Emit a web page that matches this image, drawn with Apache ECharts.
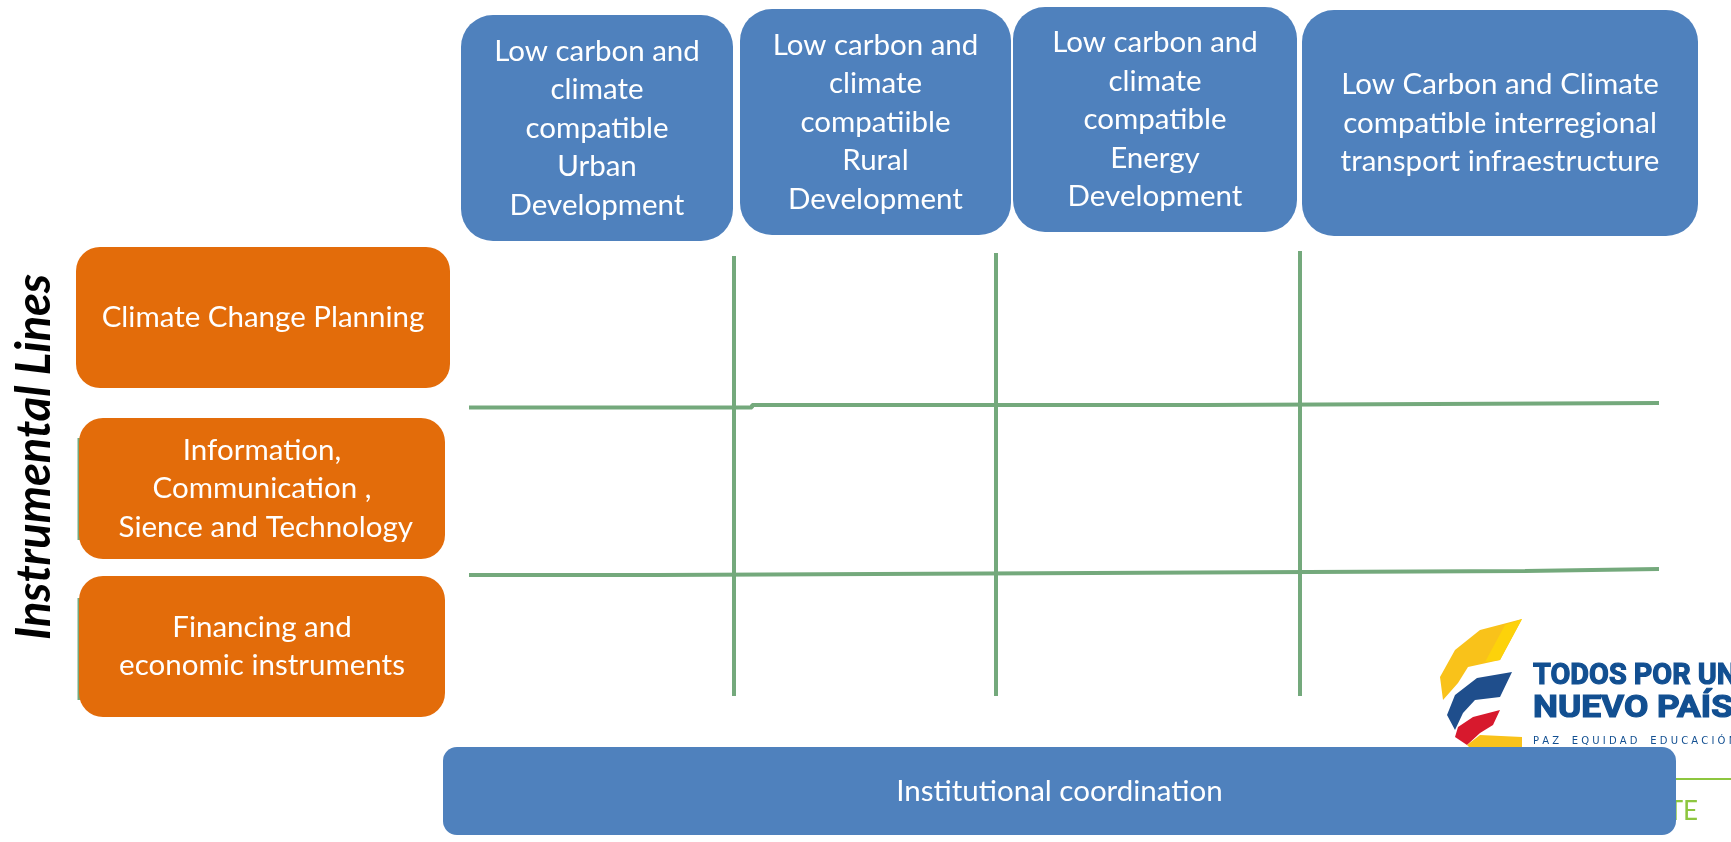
<!DOCTYPE html>
<html>
<head>
<meta charset="utf-8">
<script src="https://cdn.jsdelivr.net/npm/echarts@6/dist/echarts.min.js"></script>
<style>
  html, body { margin: 0; padding: 0; background: #ffffff; }
  #chart { width: 1731px; height: 842px; }
</style>
</head>
<body>
<div id="chart"></div>
<script>
// ---------- content ----------
const columnLabels = [
  'Low carbon and\nclimate\ncompatible\nUrban\nDevelopment',
  'Low carbon and\nclimate\ncompatiible\nRural\nDevelopment',
  'Low carbon and\nclimate\ncompatible\nEnergy\nDevelopment',
  'Low Carbon and Climate\ncompatible interregional\ntransport infraestructure'
];
const rowLabels = [
  'Climate Change Planning',
  'Information,\nCommunication ,\n Sience and Technology',
  'Financing and\neconomic instruments'
];
const baseLabels = ['Institutional coordination'];
const sideTitle = 'Instrumental Lines';
const logoLines = ['TODOS POR UN', 'NUEVO PAÍS', 'P A Z    E Q U I D A D    E D U C A C I Ó N'];

// ---------- layout (canvas units) ----------
const layout = {
  columnBoxes: [[461, 15, 733, 241], [740, 9, 1011, 235], [1013, 7, 1297, 232], [1302, 10, 1698, 236]],
  rowBoxes: [[76, 247, 450, 388], [79, 418, 445, 559], [79, 576, 445, 717]],
  baseBoxes: [[443, 747, 1676, 835]],
  gridLines: [
    [[734, 256], [734, 696]],
    [[996, 253], [996, 696]],
    [[1300, 251], [1300, 696]],
    [[469, 407.5], [752, 407.5], [752, 405], [1207, 405], [1207, 403], [1659, 403]],
    [[469, 575], [658, 575], [658, 573], [1092, 573], [1092, 571], [1525, 571], [1525, 569], [1659, 569]]
  ],
  edgeLines: [
    [[79, 438], [79, 540]],
    [[79, 598], [79, 700]]
  ]
};

const FONT = 'Lato, "Open Sans", sans-serif';
const BLUE = '#4F81BD';
const ORANGE = '#E36C0A';
const GREEN = '#74A97C';
const LOGO_BLUE = '#124F91';
const LOGO_FONT = 'Roboto, "Liberation Sans", sans-serif';

function boxSeries(name, labels, boxes, color, radius, fontSize, lineHeight) {
  return {
    type: 'custom',
    name: name,
    coordinateSystem: 'cartesian2d',
    z: 5,
    silent: true,
    data: labels.map((l, i) => ({ value: [i, 0], name: l })),
    renderItem: function (params, api) {
      const b = boxes[params.dataIndex];
      const p0 = api.coord([b[0], b[1]]);
      const p1 = api.coord([b[2], b[3]]);
      return {
        type: 'rect',
        shape: { x: p0[0], y: p0[1], width: p1[0] - p0[0], height: p1[1] - p0[1], r: radius },
        style: { fill: color },
        textContent: {
          type: 'text',
          style: {
            text: labels[params.dataIndex],
            fill: '#ffffff',
            fontFamily: FONT,
            fontSize: fontSize,
            lineHeight: lineHeight,
            align: 'center',
            verticalAlign: 'middle'
          }
        },
        textConfig: { position: 'inside' }
      };
    }
  };
}

function lineSeries(points, width, z) {
  return {
    type: 'line',
    data: points,
    showSymbol: false,
    symbol: 'none',
    silent: true,
    z: z,
    lineStyle: { color: GREEN, width: width, cap: 'butt' },
    animation: false
  };
}

const series = [];
layout.gridLines.forEach(pts => series.push(lineSeries(pts, 4, 3)));
layout.edgeLines.forEach(pts => series.push(lineSeries(pts, 3, 3)));
series.push(boxSeries('columns', columnLabels, layout.columnBoxes, BLUE, 32, 29.5, 38.5));
series.push(boxSeries('rows', rowLabels, layout.rowBoxes, ORANGE, 24, 29.5, 38.5));
series.push(boxSeries('base', baseLabels, layout.baseBoxes, BLUE, 14, 29.5, 38.5));

// logo decoration (behind the base box)
const logo = [
  { type: 'polygon', z: 0, shape: { points: [[1522, 619], [1480, 630], [1455, 650], [1440, 677], [1443, 700], [1458, 683], [1468, 667], [1500, 660]] }, style: { fill: '#F9C21A' } },
  { type: 'polygon', z: 0, shape: { points: [[1522, 619], [1500, 660], [1485, 662], [1505, 625]] }, style: { fill: '#FDD20A' } },
  { type: 'polygon', z: 0, shape: { points: [[1512, 672], [1477, 678], [1455, 695], [1447, 715], [1455, 730], [1463, 713], [1475, 700], [1500, 697]] }, style: { fill: '#1F4E8C' } },
  { type: 'polygon', z: 0, shape: { points: [[1500, 710], [1473, 717], [1458, 727], [1455, 737], [1467, 745], [1480, 733], [1493, 725]] }, style: { fill: '#D7192D' } },
  { type: 'polygon', z: 0, shape: { points: [[1467, 745], [1480, 735], [1522, 737], [1522, 748], [1470, 748]] }, style: { fill: '#F9C21A' } },
  { type: 'text', z: 0, x: 1533, y: 676, scaleX: 0.96, style: { text: logoLines[0], fill: LOGO_BLUE, stroke: LOGO_BLUE, lineWidth: 1.2, fontFamily: LOGO_FONT, fontWeight: 'bold', fontSize: 30, verticalAlign: 'middle', align: 'left' } },
  { type: 'text', z: 0, x: 1533, y: 709, scaleX: 1.14, style: { text: logoLines[1], fill: LOGO_BLUE, stroke: LOGO_BLUE, lineWidth: 1.2, fontFamily: LOGO_FONT, fontWeight: 'bold', fontSize: 31, verticalAlign: 'middle', align: 'left' } },
  { type: 'text', z: 0, x: 1533, y: 741, style: { text: logoLines[2], fill: LOGO_BLUE, fontFamily: '"DejaVu Sans", sans-serif', fontSize: 10, verticalAlign: 'middle', align: 'left' } },
  { type: 'line', z: 0, shape: { x1: 1660, y1: 779, x2: 1731, y2: 779 }, style: { stroke: '#8DC63F', lineWidth: 2 } },
  { type: 'text', z: 0, x: 1698, y: 812, style: { text: 'TE', fill: '#8DC63F', fontFamily: FONT, fontSize: 26, verticalAlign: 'middle', align: 'right' } }
];

const option = {
  backgroundColor: '#ffffff',
  animation: false,
  grid: { left: 0, right: 0, top: 0, bottom: 0 },
  xAxis: { type: 'value', min: 0, max: 1731, show: false },
  yAxis: { type: 'value', min: 0, max: 842, inverse: true, show: false },
  graphic: [
    {
      type: 'text',
      z: 1,
      x: 35,
      y: 457,
      rotation: Math.PI / 2,
      style: {
        text: sideTitle,
        fill: '#000000',
        fontFamily: FONT,
        fontWeight: 'bold',
        fontStyle: 'italic',
        fontSize: 47,
        align: 'center',
        verticalAlign: 'middle'
      }
    }
  ].concat(logo),
  series: series
};

const chart = echarts.init(document.getElementById('chart'), null, { renderer: 'canvas' });
chart.setOption(option);
</script>
</body>
</html>
